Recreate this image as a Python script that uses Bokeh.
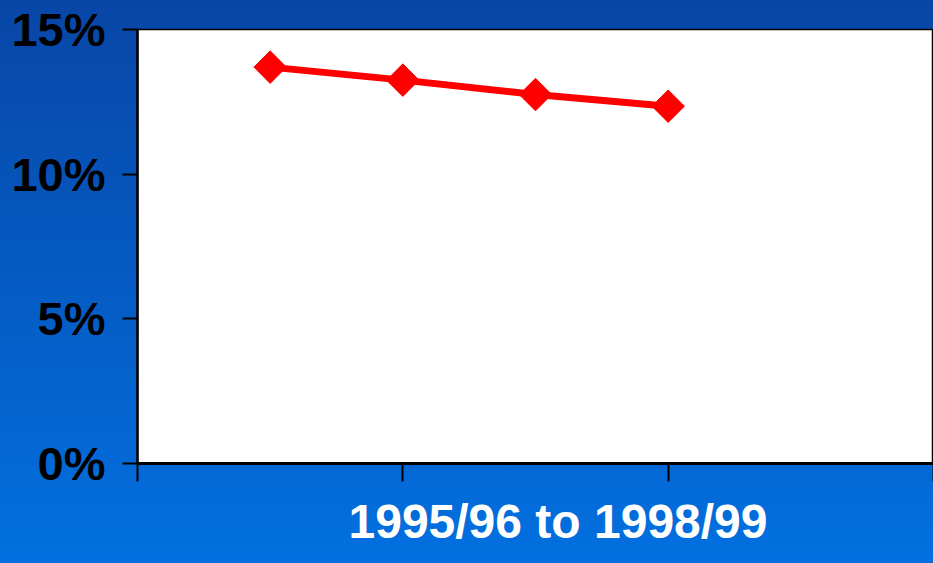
from bokeh.plotting import figure
from bokeh.models import Range1d, FixedTicker, PrintfTickFormatter, Title
from bokeh.embed import file_html
from bokeh.resources import INLINE
import math

# Data
periods = ["1995/96", "1996/97", "1997/98", "1998/99"]
period_pos = [1, 2, 3, 4]
values = [13.7, 13.25, 12.75, 12.35]
y_ticks = [0, 5, 10, 15]
x_ticks = [0, 2, 4, 6]
x_title = "1995/96 to 1998/99"

p = figure(width=933, height=563, output_backend="svg", toolbar_location=None,
           x_range=Range1d(0, 6), y_range=Range1d(0, 15),
           min_border_left=137, min_border_top=29, min_border_right=0, min_border_bottom=100)

p.styles = {"background-image": "linear-gradient(to bottom, #0846a6, #0270e0)"}
p.border_fill_alpha = 0
p.background_fill_color = "white"
p.outline_line_color = "black"
p.outline_line_width = 1.5
p.grid.visible = False

p.line(period_pos, values, line_color="#ff0000", line_width=7)
p.scatter(period_pos, values, marker="square", size=23, angle=math.pi / 4,
          fill_color="#ff0000", line_color="#ff0000")

# Y axis
yax = p.yaxis[0]
yax.ticker = FixedTicker(ticks=y_ticks)
yax.formatter = PrintfTickFormatter(format="%d%%")
yax.axis_line_width = 2.5
yax.axis_line_color = "black"
yax.major_tick_line_width = 2
yax.major_tick_out = 15
yax.major_tick_in = 0
yax.minor_tick_line_color = None
yax.major_label_text_font = "Liberation Sans"
yax.major_label_text_font_style = "bold"
yax.major_label_text_font_size = "47px"
yax.major_label_text_color = "black"
yax.major_label_standoff = 17

# X axis
xax = p.xaxis[0]
xax.ticker = FixedTicker(ticks=x_ticks)
xax.major_label_overrides = {t: "" for t in x_ticks}
xax.major_label_text_font_size = "1px"
xax.major_label_standoff = 0
xax.axis_line_width = 3
xax.axis_line_color = "black"
xax.major_tick_line_width = 2
xax.major_tick_out = 18
xax.major_tick_in = 0
xax.minor_tick_line_color = None

t = Title(text=x_title, align="left", offset=211, text_font="Liberation Sans",
          text_font_style="bold", text_font_size="48px", text_color="white",
          standoff=27, vertical_align="top")
p.add_layout(t, "below")

open("out.html", "w").write(file_html(p, INLINE))
